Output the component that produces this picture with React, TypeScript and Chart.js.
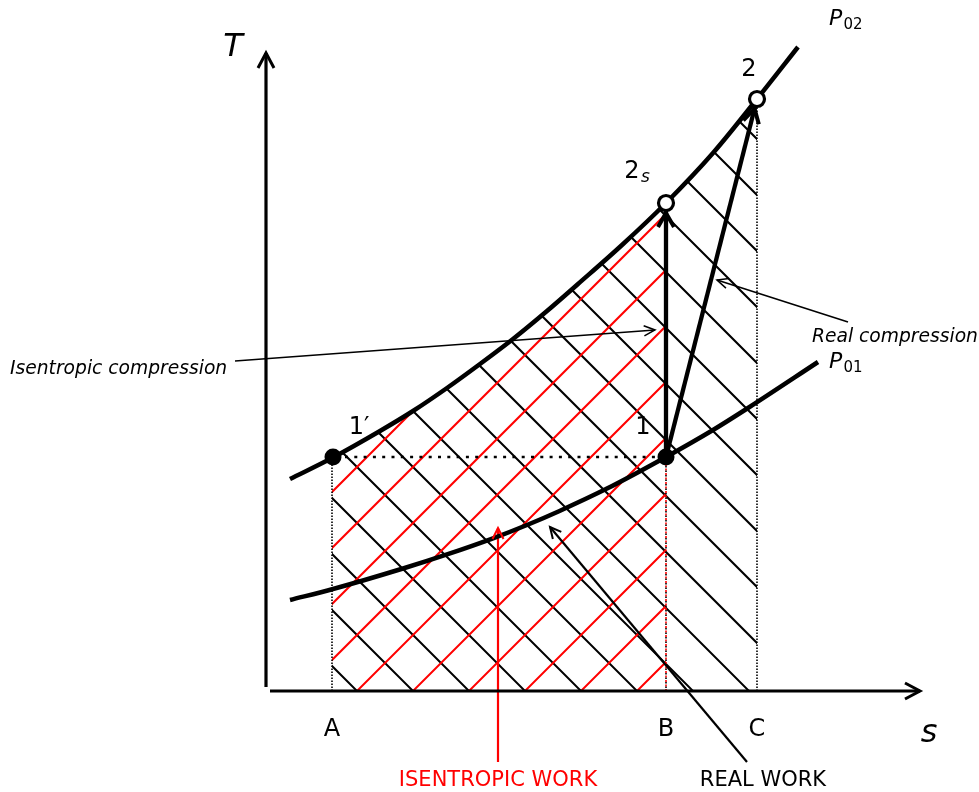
import { useEffect, useRef } from "react";
import { Chart, registerables } from "chart.js";

Chart.register(...registerables);

// ---- data (s, T in diagram units) ----
const P02_S = [0.24, 0.67, 1.14, 1.47, 1.81, 2.14, 2.47, 2.81, 3.12, 3.56, 4.0, 4.47, 4.91, 5.32];
const P02_T = [2.12, 2.335, 2.6, 2.8, 3.03, 3.27, 3.52, 3.8, 4.07, 4.46, 4.88, 5.38, 5.92, 6.44];

const P01_S = [0.24, 0.67, 1.37, 1.81, 2.27, 2.61, 2.93, 3.41, 4.0, 4.47, 4.82, 5.52];
const P01_T = [0.91, 1.02, 1.225, 1.366, 1.527, 1.66, 1.798, 2.024, 2.34, 2.61, 2.83, 3.29];

// states: 1', 1, 2s, 2
const STATE_NAMES = ["1′", "1", "2", "2"];
const STATE_S = [0.67, 4.0, 4.0, 4.91];
const STATE_T = [2.34, 2.34, 4.88, 5.92];

// entropy limits A, B, C
const LIMIT_NAMES = ["A", "B", "C"];
const LIMIT_S = [0.66, 4.0, 4.91];

// axes extents
const S_AXIS = [0.04, 6.54];
const T_AXIS = [0.04, 6.38];

// annotation leaders [fromS, fromT, toS, toT]
const LEAD_ISEN_COMP = [-0.31, 3.3, 3.89, 3.61];
const LEAD_REAL_COMP = [5.82, 3.69, 4.51, 4.11];
const LEAD_ISEN_WORK = [2.32, -0.71, 2.32, 1.63];
const LEAD_REAL_WORK = [4.81, -0.71, 2.84, 1.64];

// view window
const X_MIN = -2.66, X_MAX = 7.13;
const Y_MIN = -1.01, Y_MAX = 6.91;

// hatch pattern (diagram units)
const HATCH_STEP = 0.56;
const HATCH_PHASE = 0.35;

const RED = "#ff0000";
const BLACK = "#000000";
const FONT = '"DejaVu Sans", "Liberation Sans", sans-serif';

const pts = (xs: number[], ys: number[]) => xs.map((x, i) => ({ x, y: ys[i] }));

function interp(S: number[], T: number[], s: number) {
  for (let i = 0; i < S.length - 1; i++) {
    if (s >= S[i] && s <= S[i + 1]) {
      const f = (s - S[i]) / (S[i + 1] - S[i]);
      return T[i] + f * (T[i + 1] - T[i]);
    }
  }
  return T[T.length - 1];
}

type Arrow = { seg: number[]; lw: number; len: number; hw: number; shrink: number; color: string };

const ARROWS: Arrow[] = [
  { seg: [S_AXIS[0], 0, S_AXIS[1], 0], lw: 3, len: 15, hw: 8, shrink: 0, color: BLACK },
  { seg: [0, T_AXIS[0], 0, T_AXIS[1]], lw: 3, len: 15, hw: 8, shrink: 0, color: BLACK },
  { seg: [STATE_S[1], STATE_T[1], STATE_S[2], STATE_T[2]], lw: 4, len: 14, hw: 8, shrink: 10, color: BLACK },
  { seg: [STATE_S[1], STATE_T[1], STATE_S[3], STATE_T[3]], lw: 4, len: 14, hw: 8, shrink: 10, color: BLACK },
  { seg: LEAD_ISEN_COMP, lw: 1.5, len: 11, hw: 5, shrink: 0, color: BLACK },
  { seg: LEAD_REAL_COMP, lw: 1.5, len: 11, hw: 5, shrink: 0, color: BLACK },
  { seg: LEAD_ISEN_WORK, lw: 2, len: 11, hw: 5.5, shrink: 0, color: RED },
  { seg: LEAD_REAL_WORK, lw: 2, len: 11, hw: 5.5, shrink: 0, color: BLACK },
];

type Txt = { text: string; s: number; t: number; font: string; align: CanvasTextAlign; color: string };

const TEXTS: Txt[] = [
  { text: "T", s: -0.33, t: 6.35, font: `italic 32px ${FONT}`, align: "center", color: BLACK },
  { text: "s", s: 6.63, t: -0.51, font: `italic 32px ${FONT}`, align: "center", color: BLACK },
  { text: LIMIT_NAMES[0], s: LIMIT_S[0], t: -0.45, font: `24px ${FONT}`, align: "center", color: BLACK },
  { text: LIMIT_NAMES[1], s: LIMIT_S[1], t: -0.45, font: `24px ${FONT}`, align: "center", color: BLACK },
  { text: LIMIT_NAMES[2], s: LIMIT_S[2], t: -0.45, font: `24px ${FONT}`, align: "center", color: BLACK },
  { text: STATE_NAMES[0], s: 0.93, t: 2.57, font: `24px ${FONT}`, align: "center", color: BLACK },
  { text: STATE_NAMES[1], s: 3.77, t: 2.57, font: `24px ${FONT}`, align: "center", color: BLACK },
  { text: STATE_NAMES[3], s: 4.83, t: 6.15, font: `24px ${FONT}`, align: "center", color: BLACK },
  { text: STATE_NAMES[2], s: 3.66, t: 5.13, font: `24px ${FONT}`, align: "center", color: BLACK },
  { text: "s", s: 3.75, t: 5.09, font: `italic 17px ${FONT}`, align: "left", color: BLACK },
  { text: "P", s: 5.63, t: 6.66, font: `italic 22px ${FONT}`, align: "left", color: BLACK },
  { text: "02", s: 5.775, t: 6.62, font: `15px ${FONT}`, align: "left", color: BLACK },
  { text: "P", s: 5.63, t: 3.23, font: `italic 22px ${FONT}`, align: "left", color: BLACK },
  { text: "01", s: 5.775, t: 3.19, font: `15px ${FONT}`, align: "left", color: BLACK },
  { text: "Isentropic compression", s: -2.56, t: 3.17, font: `italic 18.7px ${FONT}`, align: "left", color: BLACK },
  { text: "Real compression", s: 5.46, t: 3.49, font: `italic 18.7px ${FONT}`, align: "left", color: BLACK },
  { text: "ISENTROPIC WORK", s: 2.32, t: -0.95, font: `21px ${FONT}`, align: "center", color: RED },
  { text: "REAL WORK", s: 4.97, t: -0.95, font: `21px ${FONT}`, align: "center", color: BLACK },
];

const diagramPlugin = {
  id: "diagram",
  beforeDatasetsDraw(chart: any) {
    const ctx: CanvasRenderingContext2D = chart.ctx;
    const xs = chart.scales.x, ys = chart.scales.y;
    const px = (s: number) => xs.getPixelForValue(s);
    const py = (t: number) => ys.getPixelForValue(t);
    const ox = px(0), oy = py(0);
    const unit = px(1) - px(0);
    const step = HATCH_STEP * unit;
    const phase = HATCH_PHASE * unit;

    const region = (s0: number, s1: number) => {
      ctx.beginPath();
      ctx.moveTo(px(s0), py(0));
      ctx.lineTo(px(s0), py(interp(P02_S, P02_T, s0)));
      for (let i = 0; i < P02_S.length; i++) {
        if (P02_S[i] > s0 && P02_S[i] < s1) ctx.lineTo(px(P02_S[i]), py(P02_T[i]));
      }
      ctx.lineTo(px(s1), py(interp(P02_S, P02_T, s1)));
      ctx.lineTo(px(s1), py(0));
      ctx.closePath();
    };

    const hatch = (s0: number, s1: number, color: string, lw: number, dir: number) => {
      ctx.save();
      region(s0, s1);
      ctx.clip();
      ctx.strokeStyle = color;
      ctx.lineWidth = lw;
      ctx.setLineDash([]);
      ctx.beginPath();
      const xa = -200, xb = 1200;
      for (let k = -40; k <= 40; k++) {
        const c = phase + k * step;
        if (dir < 0) {
          ctx.moveTo(xa, xa - ox + oy - c);
          ctx.lineTo(xb, xb - ox + oy - c);
        } else {
          ctx.moveTo(xa, c + ox + oy - xa);
          ctx.lineTo(xb, c + ox + oy - xb);
        }
      }
      ctx.stroke();
      ctx.restore();
    };

    hatch(LIMIT_S[0], LIMIT_S[2], BLACK, 2, -1);
    hatch(LIMIT_S[0], LIMIT_S[1], RED, 2, 1);
  },
  afterDatasetsDraw(chart: any) {
    const ctx: CanvasRenderingContext2D = chart.ctx;
    const xs = chart.scales.x, ys = chart.scales.y;
    ctx.save();
    ctx.setLineDash([]);
    for (const a of ARROWS) {
      const x0 = xs.getPixelForValue(a.seg[0]), y0 = ys.getPixelForValue(a.seg[1]);
      const x1 = xs.getPixelForValue(a.seg[2]), y1 = ys.getPixelForValue(a.seg[3]);
      const ang = Math.atan2(y1 - y0, x1 - x0);
      const tx = x1 - Math.cos(ang) * a.shrink, ty = y1 - Math.sin(ang) * a.shrink;
      const bx = tx - Math.cos(ang) * a.len, by = ty - Math.sin(ang) * a.len;
      const nx = -Math.sin(ang) * a.hw, ny = Math.cos(ang) * a.hw;
      ctx.strokeStyle = a.color;
      ctx.lineWidth = a.lw;
      ctx.lineJoin = "miter";
      ctx.lineCap = "butt";
      ctx.beginPath();
      ctx.moveTo(bx + nx, by + ny);
      ctx.lineTo(tx, ty);
      ctx.lineTo(bx - nx, by - ny);
      ctx.stroke();
    }
    ctx.restore();
  },
  afterDraw(chart: any) {
    const ctx: CanvasRenderingContext2D = chart.ctx;
    const xs = chart.scales.x, ys = chart.scales.y;
    ctx.save();
    ctx.textBaseline = "alphabetic";
    for (const t of TEXTS) {
      ctx.font = t.font;
      ctx.fillStyle = t.color;
      ctx.textAlign = t.align;
      ctx.fillText(t.text, xs.getPixelForValue(t.s), ys.getPixelForValue(t.t));
    }
    ctx.restore();
  },
};

const line = (data: { x: number; y: number }[], color: string, width: number, extra: any = {}) => ({
  data,
  showLine: true,
  borderColor: color,
  backgroundColor: color,
  borderWidth: width,
  pointRadius: 0,
  pointHoverRadius: 0,
  fill: false,
  tension: 0,
  ...extra,
});

export default function App() {
  const ref = useRef<HTMLCanvasElement | null>(null);

  useEffect(() => {
    document.body.style.margin = "0";
    if (!ref.current) return;

    const datasets: any[] = [
      {
        data: pts(STATE_S.slice(0, 2), STATE_T.slice(0, 2)),
        showLine: false,
        pointRadius: 8.5,
        pointBackgroundColor: BLACK,
        pointBorderColor: BLACK,
        pointBorderWidth: 0,
        order: 0,
      },
      {
        data: pts(STATE_S.slice(2), STATE_T.slice(2)),
        showLine: false,
        pointRadius: 7.5,
        pointBackgroundColor: "#ffffff",
        pointBorderColor: BLACK,
        pointBorderWidth: 3.2,
        order: 0,
      },
      line(pts([STATE_S[1], STATE_S[2]], [STATE_T[1], STATE_T[2]]), BLACK, 4.3, { order: 1 }),
      line(pts([STATE_S[1], STATE_S[3]], [STATE_T[1], STATE_T[3]]), BLACK, 4.3, { order: 1 }),
      line(pts(P02_S, P02_T), BLACK, 4.5, { order: 2, tension: 0.4, cubicInterpolationMode: "monotone", borderCapStyle: "butt" }),
      line(pts(P01_S, P01_T), BLACK, 4.5, { order: 2, tension: 0.4, cubicInterpolationMode: "monotone", borderCapStyle: "butt" }),
      line(pts(S_AXIS, [0, 0]), BLACK, 3.2, { order: 3 }),
      line(pts([0, 0], T_AXIS), BLACK, 3.2, { order: 3 }),
      line(pts([LEAD_ISEN_COMP[0], LEAD_ISEN_COMP[2]], [LEAD_ISEN_COMP[1], LEAD_ISEN_COMP[3]]), BLACK, 1.6, { order: 3 }),
      line(pts([LEAD_REAL_COMP[0], LEAD_REAL_COMP[2]], [LEAD_REAL_COMP[1], LEAD_REAL_COMP[3]]), BLACK, 1.6, { order: 3 }),
      line(pts([LEAD_ISEN_WORK[0], LEAD_ISEN_WORK[2]], [LEAD_ISEN_WORK[1], LEAD_ISEN_WORK[3]]), RED, 2.2, { order: 3 }),
      line(pts([LEAD_REAL_WORK[0], LEAD_REAL_WORK[2]], [LEAD_REAL_WORK[1], LEAD_REAL_WORK[3]]), BLACK, 2.2, { order: 3 }),
      line(pts([STATE_S[0], STATE_S[1]], [STATE_T[0], STATE_T[1]]), BLACK, 2.7, { order: 4, borderDash: [3, 6.3], borderDashOffset: -12 }),
      line(pts([LIMIT_S[0], LIMIT_S[0]], [0, STATE_T[0]]), BLACK, 1.6, { order: 4, borderDash: [1.5, 1.5] }),
      line(pts([LIMIT_S[1], LIMIT_S[1]], [0, STATE_T[1]]), BLACK, 1.6, { order: 4, borderDash: [1.5, 3], borderDashOffset: 1.5 }),
      line(pts([LIMIT_S[1], LIMIT_S[1]], [0, STATE_T[1]]), RED, 1.6, { order: 5, borderDash: [2, 2.5] }),
      line(pts([LIMIT_S[2], LIMIT_S[2]], [0, STATE_T[3]]), BLACK, 1.6, { order: 4, borderDash: [1.5, 1.5] }),
    ];

    const chart = new Chart(ref.current, {
      type: "scatter",
      data: { datasets },
      options: {
        responsive: false,
        animation: false,
        events: [],
        layout: { padding: 0, autoPadding: false },
        plugins: { legend: { display: false }, tooltip: { enabled: false }, title: { display: false } },
        scales: {
          x: { type: "linear", min: X_MIN, max: X_MAX, display: false },
          y: { type: "linear", min: Y_MIN, max: Y_MAX, display: false },
        },
      },
      plugins: [diagramPlugin],
    } as any);

    return () => chart.destroy();
  }, []);

  return (
    <div style={{ width: 979, height: 792, background: "#fff" }}>
      <canvas ref={ref} width={979} height={792} style={{ display: "block" }} />
    </div>
  );
}
